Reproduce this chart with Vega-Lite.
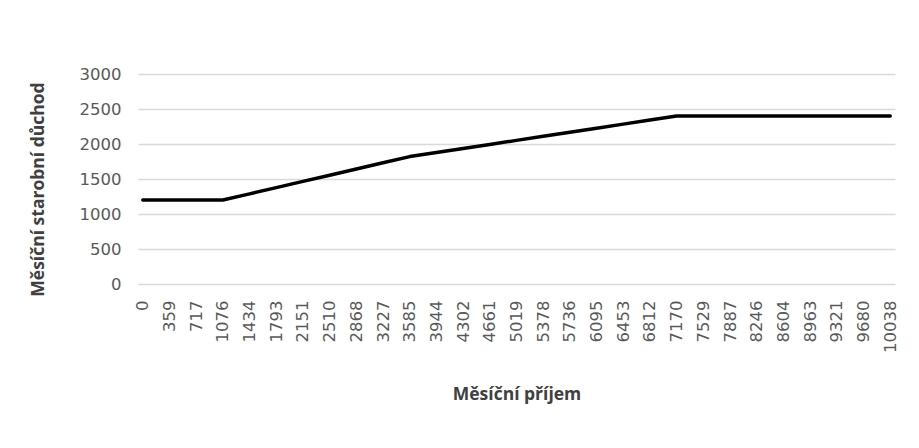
{
  "$schema": "https://vega.github.io/schema/vega-lite/v6.json",
  "width": 757,
  "height": 210,
  "autosize": {"type": "none"},
  "padding": {"left": 138, "top": 74, "right": 24, "bottom": 164},
  "background": "white",
  "config": {"view": {"stroke": null}},
  "data": {
    "values": [
      {"prijem": "0", "duchod": 1200},
      {"prijem": "359", "duchod": 1200},
      {"prijem": "717", "duchod": 1200},
      {"prijem": "1076", "duchod": 1200},
      {"prijem": "1434", "duchod": 1288},
      {"prijem": "1793", "duchod": 1377},
      {"prijem": "2151", "duchod": 1466},
      {"prijem": "2510", "duchod": 1554},
      {"prijem": "2868", "duchod": 1643},
      {"prijem": "3227", "duchod": 1732},
      {"prijem": "3585", "duchod": 1820},
      {"prijem": "3944", "duchod": 1878},
      {"prijem": "4302", "duchod": 1936},
      {"prijem": "4661", "duchod": 1994},
      {"prijem": "5019", "duchod": 2052},
      {"prijem": "5378", "duchod": 2110},
      {"prijem": "5736", "duchod": 2168},
      {"prijem": "6095", "duchod": 2226},
      {"prijem": "6453", "duchod": 2284},
      {"prijem": "6812", "duchod": 2342},
      {"prijem": "7170", "duchod": 2400},
      {"prijem": "7529", "duchod": 2400},
      {"prijem": "7887", "duchod": 2400},
      {"prijem": "8246", "duchod": 2400},
      {"prijem": "8604", "duchod": 2400},
      {"prijem": "8963", "duchod": 2400},
      {"prijem": "9321", "duchod": 2400},
      {"prijem": "9680", "duchod": 2400},
      {"prijem": "10038", "duchod": 2400}
    ]
  },
  "mark": {"type": "line", "color": "black", "strokeWidth": 3.5, "strokeCap": "round", "strokeJoin": "round"},
  "encoding": {
    "x": {
      "field": "prijem",
      "type": "ordinal",
      "sort": null,
      "scale": {"type": "point", "padding": 0.18},
      "axis": {
        "title": "Měsíční příjem",
        "titleFont": "Open Sans",
        "titleFontWeight": "bold",
        "titleFontSize": 17.5,
        "titleColor": "#404040",
        "titlePadding": 33,
        "labelAngle": -90,
        "labelFont": "DejaVu Sans",
        "labelFontSize": 16.5,
        "labelColor": "#595959",
        "labelPadding": 16,
        "ticks": false,
        "domain": false,
        "grid": false
      }
    },
    "y": {
      "field": "duchod",
      "type": "quantitative",
      "scale": {"domain": [0, 3000], "nice": false},
      "axis": {
        "title": "Měsíční starobní důchod",
        "titleFont": "Open Sans",
        "titleFontWeight": "bold",
        "titleFontSize": 17.5,
        "titleColor": "#404040",
        "titlePadding": 32,
        "titleY": 115,
        "values": [0, 500, 1000, 1500, 2000, 2500, 3000],
        "format": "d",
        "labelFont": "DejaVu Sans",
        "labelFontSize": 16.5,
        "labelColor": "#595959",
        "labelPadding": 17,
        "ticks": false,
        "domain": false,
        "grid": true,
        "gridColor": "#d9d9d9",
        "gridWidth": 1.3
      }
    }
  }
}
